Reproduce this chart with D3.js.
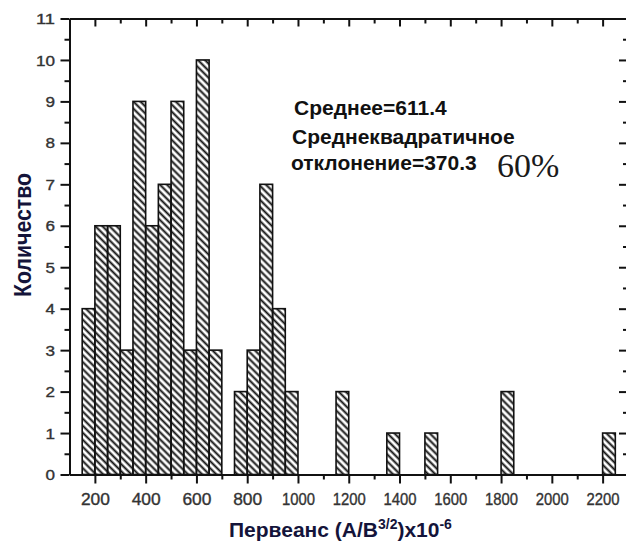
<!DOCTYPE html>
<html>
<head>
<meta charset="utf-8">
<script src="https://cdn.jsdelivr.net/npm/d3@7"></script>
<style>
  html, body { margin: 0; padding: 0; background: #fff; }
  svg { display: block; }
</style>
</head>
<body>
<svg id="chart" width="626" height="542"></svg>
<script>
// Histogram of perveance values, bins 50 units wide (left edges + counts)
const binStarts = [150, 200, 250, 300, 350, 400, 450, 500, 550, 600, 650,
                   750, 800, 850, 900, 950, 1150, 1350, 1500, 1800, 2200];
const counts    = [4, 6, 6, 3, 9, 6, 7, 9, 3, 10, 3,
                   2, 3, 7, 4, 2, 2, 1, 1, 2, 1];
const binWidth = 50;

const xMajorTicks = [200, 400, 600, 800, 1000, 1200, 1400, 1600, 1800, 2000, 2200];
const xMinorTicks = [300, 500, 700, 900, 1100, 1300, 1500, 1700, 1900, 2100];
const yMajorTicks = [0, 1, 2, 3, 4, 5, 6, 7, 8, 9, 10, 11];
const yMinorTicks = [0.5, 1.5, 2.5, 3.5, 4.5, 5.5, 6.5, 7.5, 8.5, 9.5, 10.5];

const statsLines = ["Среднее=611.4", "Среднеквадратичное", "отклонение=370.3"];
const percentLabel = "60%";
const yTitle = "Количество";

const svg = d3.select("#chart");

const x = d3.scaleLinear().domain([100, 2300]).range([69.5, 628]);
const y = d3.scaleLinear().domain([0, 11]).range([474.5, 18.5]);
const fmt = d3.format("d");

// diagonal hatch fill for the bars
const defs = svg.append("defs");
defs.append("pattern")
  .attr("id", "hatch")
  .attr("patternUnits", "userSpaceOnUse")
  .attr("width", 5).attr("height", 5)
  .attr("patternTransform", "rotate(45)")
  .append("line")
  .attr("x1", 0).attr("y1", 2.5).attr("x2", 5).attr("y2", 2.5)
  .attr("stroke", "#111").attr("stroke-width", 2);

const bins = binStarts.map((s, i) => ({ x0: s, x1: s + binWidth, n: counts[i] }));

svg.append("g").selectAll("rect")
  .data(bins)
  .join("rect")
  .attr("x", d => x(d.x0))
  .attr("y", d => y(d.n))
  .attr("width", d => x(d.x1) - x(d.x0))
  .attr("height", d => y(0) - y(d.n))
  .attr("fill", "url(#hatch)")
  .attr("stroke", "#111")
  .attr("stroke-width", 1.6);

function styleAxis(g) {
  g.select(".domain").attr("stroke", "#111").attr("stroke-width", 2);
  g.selectAll(".tick line").attr("stroke", "#111").attr("stroke-width", 2);
}

function styleTickText(sel, size) {
  sel.attr("fill", "#333")
    .attr("stroke", "#333")
    .attr("stroke-width", 0.35)
    .style("font-family", "'Liberation Sans', Arial, sans-serif")
    .style("font-size", size)
    .attr("lengthAdjust", "spacingAndGlyphs");
}

// bottom axis
const bottom = svg.append("g").attr("transform", `translate(0,${y(0)})`);
bottom.call(d3.axisBottom(x).tickValues(xMajorTicks).tickFormat(fmt).tickSize(9).tickSizeOuter(0))
  .call(styleAxis);
bottom.selectAll(".tick text")
  .attr("y", 30.5).attr("dy", 0)
  .call(styleTickText, "16px")
  .attr("textLength", d => fmt(d).length === 3 ? 29 : 33);
svg.append("g").attr("transform", `translate(0,${y(0)})`)
  .call(d3.axisBottom(x).tickValues(xMinorTicks).tickSize(5).tickSizeOuter(0).tickFormat(""))
  .call(styleAxis)
  .call(g => g.select(".domain").remove());

// top axis, ticks pointing inward
svg.append("g").attr("transform", `translate(0,${y(11)})`)
  .call(d3.axisBottom(x).tickValues(xMajorTicks).tickSize(8).tickSizeOuter(0).tickFormat(""))
  .call(styleAxis);
svg.append("g").attr("transform", `translate(0,${y(11)})`)
  .call(d3.axisBottom(x).tickValues(xMinorTicks).tickSize(5).tickSizeOuter(0).tickFormat(""))
  .call(styleAxis)
  .call(g => g.select(".domain").remove());

// left axis
const left = svg.append("g").attr("transform", `translate(${x(100)},0)`);
left.call(d3.axisLeft(y).tickValues(yMajorTicks).tickFormat(fmt).tickSize(9).tickSizeOuter(0))
  .call(styleAxis);
left.selectAll(".tick text")
  .attr("x", -14.5).attr("dy", "0.36em")
  .call(styleTickText, "14px")
  .attr("textLength", d => fmt(d).length === 1 ? 9.5 : 19);
svg.append("g").attr("transform", `translate(${x(100)},0)`)
  .call(d3.axisLeft(y).tickValues(yMinorTicks).tickSize(5).tickSizeOuter(0).tickFormat(""))
  .call(styleAxis)
  .call(g => g.select(".domain").remove());

// right axis, ticks pointing inward
svg.append("g").attr("transform", `translate(${x(2300)},0)`)
  .call(d3.axisRight(y).tickValues(yMajorTicks).tickSize(-9).tickSizeOuter(0).tickFormat(""))
  .call(styleAxis);
svg.append("g").attr("transform", `translate(${x(2300)},0)`)
  .call(d3.axisRight(y).tickValues(yMinorTicks).tickSize(-5).tickSizeOuter(0).tickFormat(""))
  .call(styleAxis)
  .call(g => g.select(".domain").remove());

// axis titles
svg.append("text")
  .attr("transform", "translate(31,235) rotate(-90)")
  .attr("text-anchor", "middle")
  .attr("fill", "#14143a")
  .style("font-family", "'Liberation Sans', Arial, sans-serif")
  .style("font-size", "23px")
  .style("font-weight", "bold")
  .attr("textLength", 124)
  .attr("lengthAdjust", "spacingAndGlyphs")
  .text(yTitle);

const xt = svg.append("text")
  .attr("x", 229).attr("y", 537)
  .attr("fill", "#14143a")
  .style("font-family", "'Liberation Sans', Arial, sans-serif")
  .style("font-size", "21px")
  .style("font-weight", "bold");
xt.append("tspan").text("Первеанс (А/В");
xt.append("tspan").attr("dy", -8).style("font-size", "14px").text("3/2");
xt.append("tspan").attr("dy", 8).text(")x10");
xt.append("tspan").attr("dy", -8).style("font-size", "14px").text("-6");

// statistics annotation
const statPos = [[294, 115], [292, 144], [291, 170]];
svg.append("g").selectAll("text")
  .data(statsLines)
  .join("text")
  .attr("x", (d, i) => statPos[i][0])
  .attr("y", (d, i) => statPos[i][1])
  .attr("fill", "#111")
  .style("font-family", "'Liberation Sans', Arial, sans-serif")
  .style("font-size", "21px")
  .style("font-weight", "bold")
  .text(d => d);

svg.append("text")
  .attr("x", 497).attr("y", 177)
  .attr("fill", "#1a1a1a")
  .style("font-family", "'Liberation Serif', 'Times New Roman', serif")
  .style("font-size", "34px")
  .text(percentLabel);
</script>
</body>
</html>
